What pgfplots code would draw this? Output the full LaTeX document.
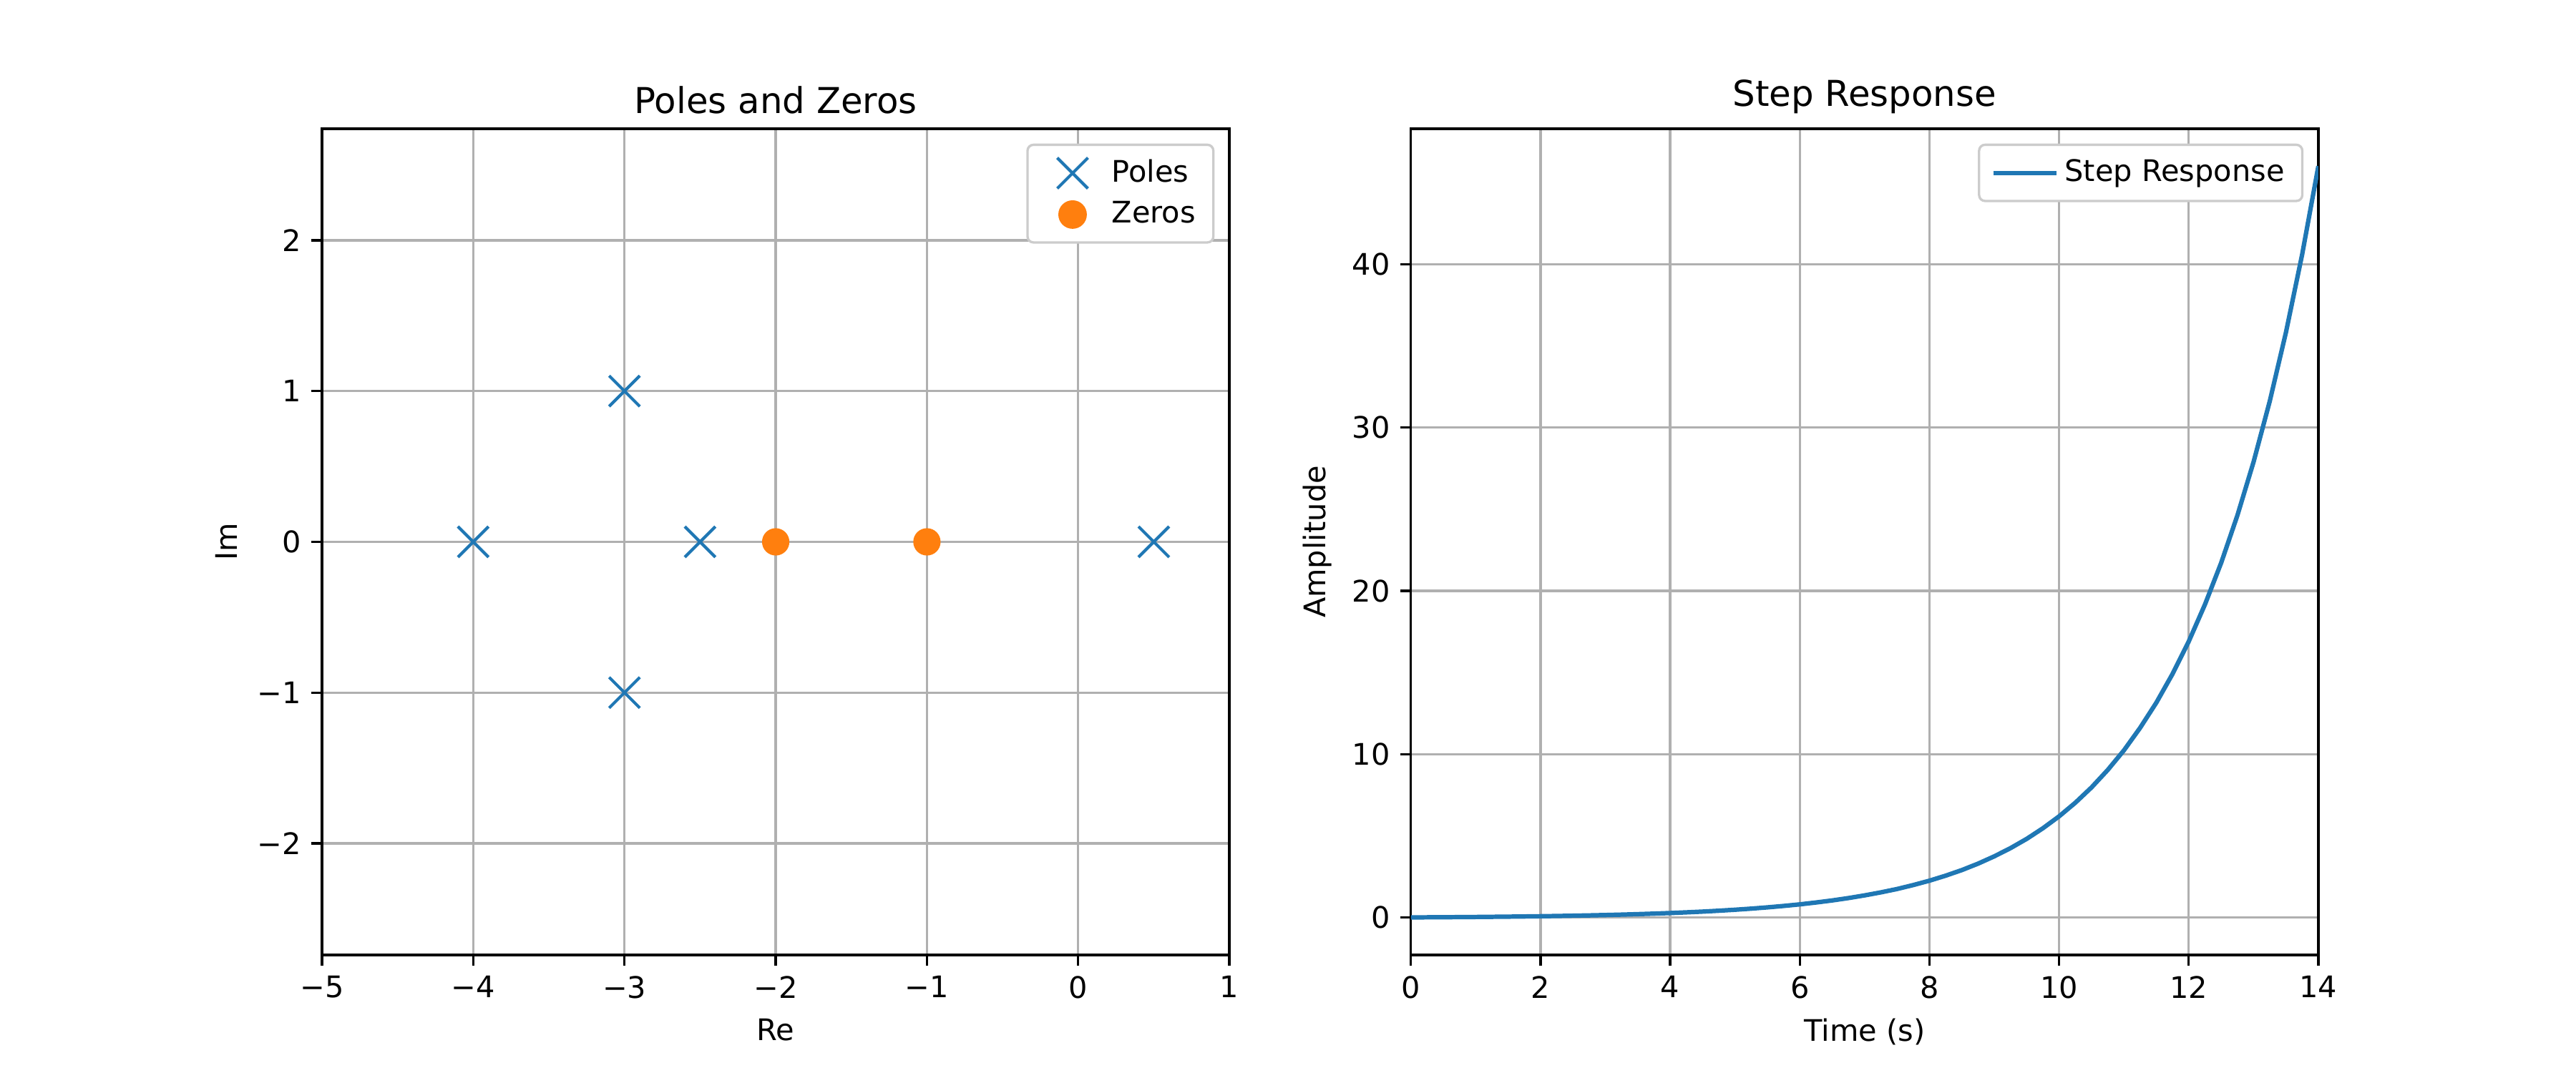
\documentclass[border=0pt]{standalone}
\usepackage{fontspec}
\setmainfont{DejaVu Sans}
\usepackage{pgfplots}
\pgfplotsset{compat=1.18}
\definecolor{tabblue}{HTML}{1F77B4}
\definecolor{taborange}{HTML}{FF7F0E}
\definecolor{gridgray}{HTML}{B0B0B0}
\definecolor{legendgray}{HTML}{CCCCCC}

\pgfplotsset{
  mpl/.style={
    width=4.227in, height=3.85in, scale only axis,
    axis line style={line width=0.8pt},
    tick align=outside, major tick length=3.5pt,
    every tick/.style={black, line width=0.8pt},
    xtick pos=bottom, ytick pos=left,
    grid=major, grid style={gridgray, line width=0.8pt},
    tick label style={font=\fontsize{10}{12}\selectfont},
    label style={font=\fontsize{10}{12}\selectfont},
    title style={font=\fontsize{12}{14.4}\selectfont, yshift=-4.5pt},
    /pgf/number format/assume math mode=true,
    legend cell align=left,
    legend style={at={(1,1)}, anchor=north east, xshift=-5pt, yshift=-5pt,
      draw=legendgray, line width=0.8pt, rounded corners=2pt,
      fill=white,
      inner xsep=4pt, inner ysep=3pt, row sep=1pt,
      font=\fontsize{10}{12}\selectfont,
      nodes={inner sep=2pt}},
    legend image code/.code={
      \path (0cm,0cm) (0.75cm,0cm);
      \draw[mark repeat=2, mark phase=2, #1]
        plot coordinates {(0cm,0cm) (0.375cm,0cm) (0.75cm,0cm)};},
  }
}

\begin{document}
\begin{tikzpicture}
\path[use as bounding box] (0,0) rectangle (12in,5in);

% left: pole-zero map
\begin{axis}[mpl,
  at={(1.5in,0.55in)}, anchor=south west,
  title={Poles and Zeros},
  xlabel={Re}, ylabel={Im},
  xmin=-5, xmax=1, ymin=-2.74, ymax=2.74,
  xtick={-5,-4,-3,-2,-1,0,1},
  xticklabels={−5,−4,−3,−2,−1,0,1},
  ytick={-2,-1,0,1,2},
  yticklabels={−2,−1,0,1,2},
  clip=false]
  \addplot[only marks, mark=x, mark size=7.3pt, tabblue, line width=1pt]
    coordinates {(-4,0) (-3,1) (-3,-1) (-2.5,0) (0.5,0)};
  \addlegendentry{Poles}
  \addplot[only marks, mark=*, mark size=4.4pt, taborange, mark options={draw=taborange, fill=taborange}]
    coordinates {(-2,0) (-1,0)};
  \addlegendentry{Zeros}
\end{axis}

% right: step response
\begin{axis}[mpl,
  at={(6.5727in,0.55in)}, anchor=south west,
  title={Step Response},
  xlabel={Time (s)}, ylabel={Amplitude},
  xmin=0, xmax=14, ymin=-2.3, ymax=48.3,
  xtick={0,2,...,14}, ytick={0,10,20,30,40}]
  \addplot[tabblue, line width=1.5pt, line join=round] table[row sep=\\]{
  x y \\
  0.00 0.000 \\
  0.25 0.006 \\
  0.50 0.012 \\
  0.75 0.019 \\
  1.00 0.027 \\
  1.25 0.037 \\
  1.50 0.047 \\
  1.75 0.059 \\
  2.00 0.072 \\
  2.25 0.087 \\
  2.50 0.105 \\
  2.75 0.124 \\
  3.00 0.146 \\
  3.25 0.171 \\
  3.50 0.200 \\
  3.75 0.232 \\
  4.00 0.268 \\
  4.25 0.310 \\
  4.50 0.356 \\
  4.75 0.410 \\
  5.00 0.470 \\
  5.25 0.538 \\
  5.50 0.615 \\
  5.75 0.702 \\
  6.00 0.800 \\
  6.25 0.914 \\
  6.50 1.040 \\
  6.75 1.185 \\
  7.00 1.350 \\
  7.25 1.534 \\
  7.50 1.740 \\
  7.75 1.982 \\
  8.00 2.250 \\
  8.25 2.557 \\
  8.50 2.900 \\
  8.75 3.294 \\
  9.00 3.740 \\
  9.25 4.242 \\
  9.50 4.810 \\
  9.75 5.460 \\
  10.00 6.190 \\
  10.25 7.022 \\
  10.50 7.960 \\
  10.75 9.029 \\
  11.00 10.23 \\
  11.25 11.61 \\
  11.50 13.15 \\
  11.75 14.91 \\
  12.00 16.90 \\
  12.25 19.16 \\
  12.50 21.71 \\
  12.75 24.61 \\
  13.00 27.89 \\
  13.25 31.61 \\
  13.50 35.83 \\
  13.75 40.60 \\
  14.00 46.01 \\
  };
  \addlegendentry{Step Response}
\end{axis}
\end{tikzpicture}
\end{document}
